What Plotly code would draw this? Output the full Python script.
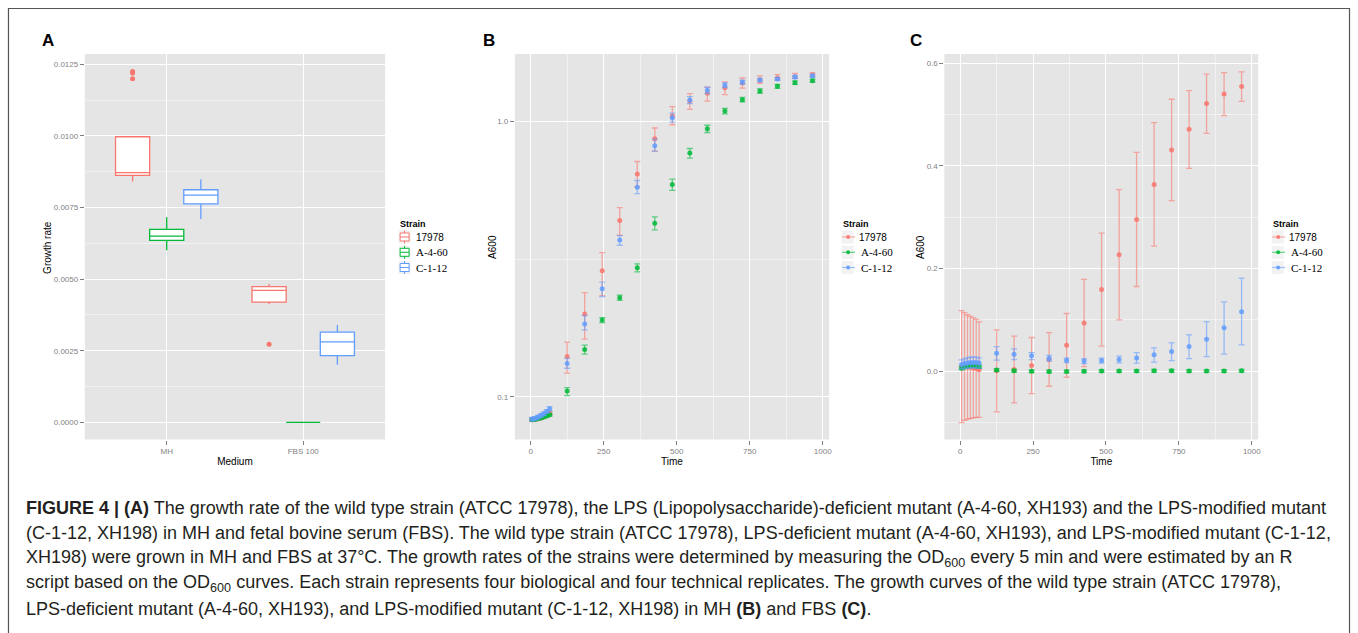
import math
import plotly.graph_objects as go

# ---------------- DATA ----------------
strains = ["17978", "A-4-60", "C-1-12"]
colors = ["#F8766D", "#00BA38", "#619CFF"]

# Panel A: growth-rate box statistics per medium
media = ["MH", "FBS 100"]
box_q1 = {"17978": [0.00862, 0.00420], "A-4-60": [0.00635, 0.0], "C-1-12": [0.00763, 0.00233]}
box_med = {"17978": [0.00872, 0.00461], "A-4-60": [0.00650, 0.0], "C-1-12": [0.00793, 0.00281]}
box_q3 = {"17978": [0.00997, 0.00474], "A-4-60": [0.00674, 0.0], "C-1-12": [0.00812, 0.00315]}
box_lo = {"17978": [0.00841, 0.00413], "A-4-60": [0.00601, 0.0], "C-1-12": [0.00710, 0.00201]}
box_hi = {"17978": [0.00997, 0.00483], "A-4-60": [0.00716, 0.0], "C-1-12": [0.00848, 0.00340]}
outlier_medium = ["MH", "MH", "MH", "FBS 100"]
outlier_strain = ["17978", "17978", "17978", "17978"]
outlier_value = [0.01225, 0.01220, 0.01200, 0.00273]

# Time points (min) for panels B and C
time = [5, 15, 25, 35, 45, 55, 65, 125, 185, 245, 305, 365, 425, 485,
        545, 605, 665, 725, 785, 845, 905, 965]

# Panel B (MH): mean A600 with lower / upper error limits
mh_mean = {
    "17978": [0.0825, 0.0828, 0.0832, 0.0838, 0.0845, 0.0857, 0.0872, 0.140, 0.200, 0.287,
              0.437, 0.644, 0.865, 1.046, 1.185, 1.264, 1.325, 1.377, 1.413, 1.436, 1.453, 1.474],
    "A-4-60": [0.0825, 0.0828, 0.0833, 0.0838, 0.0845, 0.0852, 0.0860, 0.105, 0.1485, 0.190,
               0.229, 0.294, 0.427, 0.590, 0.767, 0.940, 1.090, 1.199, 1.289, 1.340, 1.382, 1.405],
    "C-1-12": [0.0830, 0.0836, 0.0844, 0.0855, 0.0868, 0.0885, 0.0905, 0.132, 0.184, 0.247,
               0.371, 0.577, 0.816, 1.031, 1.195, 1.296, 1.351, 1.386, 1.413, 1.425, 1.449, 1.465],
}
mh_low = {
    "17978": [0.0815, 0.0818, 0.0822, 0.0828, 0.0835, 0.0846, 0.0860, 0.122, 0.162, 0.233,
              0.386, 0.579, 0.780, 0.972, 1.106, 1.185, 1.250, 1.320, 1.375, 1.410, 1.432, 1.457],
    "A-4-60": [0.0818, 0.0821, 0.0826, 0.0831, 0.0838, 0.0845, 0.0852, 0.101, 0.143, 0.186,
               0.224, 0.284, 0.404, 0.562, 0.736, 0.911, 1.064, 1.176, 1.265, 1.318, 1.362, 1.388],
    "C-1-12": [0.0818, 0.0824, 0.0832, 0.0842, 0.0855, 0.0872, 0.0890, 0.127, 0.175, 0.231,
               0.355, 0.547, 0.780, 0.993, 1.160, 1.262, 1.326, 1.366, 1.395, 1.410, 1.431, 1.446],
}
mh_high = {
    "17978": [0.0835, 0.0838, 0.0842, 0.0848, 0.0855, 0.0868, 0.0884, 0.158, 0.239, 0.334,
              0.486, 0.715, 0.946, 1.131, 1.260, 1.330, 1.392, 1.437, 1.462, 1.478, 1.493, 1.502],
    "A-4-60": [0.0832, 0.0835, 0.0840, 0.0845, 0.0852, 0.0859, 0.0868, 0.108, 0.154, 0.194,
               0.234, 0.304, 0.450, 0.617, 0.797, 0.968, 1.114, 1.222, 1.313, 1.363, 1.402, 1.423],
    "C-1-12": [0.0842, 0.0848, 0.0856, 0.0868, 0.0881, 0.0898, 0.0922, 0.138, 0.197, 0.261,
               0.385, 0.610, 0.860, 1.071, 1.230, 1.330, 1.380, 1.410, 1.432, 1.440, 1.467, 1.482],
}

# Panel C (FBS): mean A600 with lower / upper error limits
fbs_mean = {
    "17978": [0.0090, 0.0092, 0.0082, 0.0077, 0.0065, 0.0055, 0.0030, 0.0007, 0.0033, 0.0110,
              0.0230, 0.0505, 0.0940, 0.1590, 0.2269, 0.2958, 0.3640, 0.4310, 0.4713, 0.5214, 0.5400, 0.5545],
    "A-4-60": [0.0060, 0.0080, 0.0100, 0.0110, 0.0110, 0.0100, 0.0090, 0.0025, 0.0010, 0.0000,
               -0.0005, -0.0005, 0.0000, 0.0005, 0.0005, 0.0005, 0.0010, 0.0010, 0.0005, 0.0005, 0.0005, 0.0010],
    "C-1-12": [0.0130, 0.0150, 0.0160, 0.0170, 0.0170, 0.0170, 0.0160, 0.0351, 0.0332, 0.0300,
               0.0247, 0.0215, 0.0200, 0.0208, 0.0228, 0.0260, 0.0319, 0.0384, 0.0481, 0.0624, 0.0845, 0.1157],
}
fbs_low = {
    "17978": [-0.1000, -0.0956, -0.0936, -0.0917, -0.0910, -0.0900, -0.0900, -0.0793, -0.0618, -0.0436,
              -0.0293, -0.0117, 0.0091, 0.0488, 0.1001, 0.1651, 0.2438, 0.3322, 0.3952, 0.4635, 0.4980, 0.5259],
    "A-4-60": [0.0030, 0.0050, 0.0070, 0.0080, 0.0080, 0.0070, 0.0060, 0.0000, -0.0015, -0.0025,
               -0.0030, -0.0030, -0.0025, -0.0020, -0.0020, -0.0020, -0.0015, -0.0015, -0.0020, -0.0020, -0.0020, -0.0015],
    "C-1-12": [0.0040, 0.0055, 0.0060, 0.0065, 0.0065, 0.0065, 0.0060, 0.0215, 0.0228, 0.0228,
               0.0195, 0.0169, 0.0150, 0.0156, 0.0163, 0.0156, 0.0176, 0.0208, 0.0247, 0.0286, 0.0332, 0.0514],
}
fbs_high = {
    "17978": [0.1180, 0.1140, 0.1100, 0.1070, 0.1040, 0.1010, 0.0960, 0.0806, 0.0683, 0.0657,
              0.0754, 0.1125, 0.1788, 0.2690, 0.3536, 0.4264, 0.4843, 0.5298, 0.5467, 0.5786, 0.5818, 0.5831],
    "A-4-60": [0.0090, 0.0110, 0.0130, 0.0140, 0.0140, 0.0130, 0.0120, 0.0050, 0.0035, 0.0025,
               0.0020, 0.0020, 0.0025, 0.0030, 0.0030, 0.0030, 0.0035, 0.0035, 0.0030, 0.0030, 0.0030, 0.0035],
    "C-1-12": [0.0220, 0.0245, 0.0260, 0.0275, 0.0275, 0.0275, 0.0260, 0.0481, 0.0436, 0.0364,
               0.0306, 0.0254, 0.0241, 0.0254, 0.0293, 0.0364, 0.0455, 0.0553, 0.0709, 0.0968, 0.1352, 0.1814],
}

caption_lines = [
    "<b>FIGURE 4 | (A)</b> The growth rate of the wild type strain (ATCC 17978), the LPS (Lipopolysaccharide)-deficient mutant (A-4-60, XH193) and the LPS-modified mutant",
    "(C-1-12, XH198) in MH and fetal bovine serum (FBS). The wild type strain (ATCC 17978), LPS-deficient mutant (A-4-60, XH193), and LPS-modified mutant (C-1-12,",
    "XH198) were grown in MH and FBS at 37°C. The growth rates of the strains were determined by measuring the OD<sub>600</sub> every 5 min and were estimated by an R",
    "script based on the OD<sub>600</sub> curves. Each strain represents four biological and four technical replicates. The growth curves of the wild type strain (ATCC 17978),",
    "LPS-deficient mutant (A-4-60, XH193), and LPS-modified mutant (C-1-12, XH198) in MH <b>(B)</b> and FBS <b>(C)</b>.",
]

# ---------------- FIGURE ----------------
W, H = 1358, 633
def px(x):
    return x / W
def py(y):
    return 1 - y / H

def rgba(hexc, a):
    h = hexc.lstrip("#")
    return "rgba(%d,%d,%d,%.2f)" % (int(h[0:2], 16), int(h[2:4], 16), int(h[4:6], 16), a)

SANS = "Liberation Sans, Arial, sans-serif"
SERIF = "Liberation Serif, Times New Roman, serif"

fig = go.Figure()
dodge = {"17978": -0.25, "A-4-60": 0.0, "C-1-12": 0.25}

# Panel A boxes
for s, c in zip(strains, colors):
    xs = [i + 1 + dodge[s] for i in range(len(media))]
    fig.add_trace(go.Box(
        x=xs, q1=box_q1[s], median=box_med[s], q3=box_q3[s],
        lowerfence=box_lo[s], upperfence=box_hi[s],
        width=0.25, whiskerwidth=0, fillcolor="white",
        line=dict(color=c, width=1.3), boxpoints=False,
        name=s, showlegend=False, xaxis="x", yaxis="y", hoverinfo="skip",
    ))
ox = [media.index(m) + 1 + dodge[s] for m, s in zip(outlier_medium, outlier_strain)]
fig.add_trace(go.Scatter(
    x=ox, y=outlier_value, mode="markers",
    marker=dict(color=colors[0], size=5), showlegend=False, xaxis="x", yaxis="y"))

# Panels B and C
for means, lows, highs, xa, ya in [
    (mh_mean, mh_low, mh_high, "x2", "y2"),
    (fbs_mean, fbs_low, fbs_high, "x3", "y3"),
]:
    for s, c in zip(strains, colors):
        m = means[s]
        up = [h - v for h, v in zip(highs[s], m)]
        dn = [v - l for l, v in zip(lows[s], m)]
        fig.add_trace(go.Scatter(
            x=time, y=m, mode="markers", name=s,
            marker=dict(color=rgba(c, 0.85), size=5),
            error_y=dict(type="data", symmetric=False, array=up, arrayminus=dn,
                         color=rgba(c, 0.6), thickness=1.3, width=3),
            showlegend=False, xaxis=xa, yaxis=ya))

PANEL_BG = "#E5E5E5"
tickfont = dict(size=8, color="#7F7F7F", family=SANS)
titlefont = dict(size=10, color="black", family=SANS)
common = dict(showline=False, zeroline=False, gridcolor="white", gridwidth=1.2,
              ticks="outside", ticklen=4, tickwidth=1, tickcolor="#7F7F7F",
              tickfont=tickfont, title_font=titlefont)
minor_style = dict(showgrid=True, gridcolor="#F2F2F2", gridwidth=0.6)

ydom = [py(439.5), py(54)]

fig.update_layout(
    width=W, height=H, autosize=False,
    margin=dict(l=0, r=0, t=0, b=0),
    paper_bgcolor="white", plot_bgcolor=PANEL_BG,
    font=dict(family=SANS, color="black"),
    boxmode="overlay", showlegend=False,
    xaxis=dict(domain=[px(85), px(386)], range=[0.4, 2.6], tickvals=[1, 2], ticktext=media,
               title=dict(text="Medium", standoff=2), anchor="y", **common),
    yaxis=dict(domain=ydom, range=[-0.0006, 0.01286], tickvals=[0, 0.0025, 0.005, 0.0075, 0.01, 0.0125],
               tickformat=".4f", anchor="x",
               minor=dict(dtick=0.00125, tick0=0, **minor_style), **common),
    xaxis2=dict(domain=[px(516), px(831)], range=[-54, 1022], tickvals=[0, 250, 500, 750, 1000],
                title=dict(text="Time", standoff=2), anchor="y2",
                minor=dict(dtick=125, tick0=125, **minor_style), **common),
    yaxis2=dict(domain=ydom, type="log", range=[math.log10(0.07), math.log10(1.756)],
                tickvals=[0.1, 1.0], ticktext=["0.1", "1.0"], anchor="x2",
                minor=dict(tickvals=[10 ** -0.5], **minor_style), **common),
    xaxis3=dict(domain=[px(946.5), px(1261)], range=[-54, 1022], tickvals=[0, 250, 500, 750, 1000],
                title=dict(text="Time", standoff=2), anchor="y3",
                minor=dict(dtick=125, tick0=125, **minor_style), **common),
    yaxis3=dict(domain=ydom, range=[-0.133, 0.618], tickvals=[0, 0.2, 0.4, 0.6], tickformat=".1f",
                anchor="x3",
                minor=dict(dtick=0.1, tick0=-0.1, **minor_style), **common),
)

# y-axis titles (placed like ggplot, close to the tick labels)
for txt, x in [("Growth rate", 47), ("A600", 493), ("A600", 922)]:
    fig.add_annotation(text=txt, x=px(x), y=py(247), xref="paper", yref="paper",
                       showarrow=False, textangle=-90, xanchor="center", yanchor="middle",
                       font=titlefont)

# ---------- manual ggplot-style legends ----------
key_rows = [237.0, 252.3, 267.5]
def add_legend(x0, kind):
    fig.add_annotation(text="<b>Strain</b>", x=px(x0), y=py(224), xref="paper", yref="paper",
                       showarrow=False, xanchor="left", yanchor="middle",
                       font=dict(size=9, color="black", family=SANS))
    for s, c, yc in zip(strains, colors, key_rows):
        fig.add_shape(type="rect", xref="paper", yref="paper",
                      x0=px(x0), x1=px(x0 + 13), y0=py(yc + 7), y1=py(yc - 7),
                      fillcolor="#F2F2F2", line=dict(color="white", width=1), layer="above")
        if kind == "box":
            fig.add_shape(type="rect", xref="paper", yref="paper",
                          x0=px(x0 + 2), x1=px(x0 + 11), y0=py(yc + 4), y1=py(yc - 4),
                          fillcolor="white", line=dict(color=c, width=1), layer="above")
            fig.add_shape(type="line", xref="paper", yref="paper",
                          x0=px(x0 + 2), x1=px(x0 + 11), y0=py(yc), y1=py(yc),
                          line=dict(color=c, width=1), layer="above")
            for ya, yb in [(yc - 4, yc - 6.5), (yc + 4, yc + 6.5)]:
                fig.add_shape(type="line", xref="paper", yref="paper",
                              x0=px(x0 + 6.5), x1=px(x0 + 6.5), y0=py(ya), y1=py(yb),
                              line=dict(color=c, width=1), layer="above")
        else:
            fig.add_shape(type="line", xref="paper", yref="paper",
                          x0=px(x0 + 1), x1=px(x0 + 14), y0=py(yc), y1=py(yc),
                          line=dict(color=rgba(c, 0.6), width=1.2), layer="above")
            fig.add_shape(type="circle", xref="paper", yref="paper",
                          x0=px(x0 + 5), x1=px(x0 + 9), y0=py(yc + 2), y1=py(yc - 2),
                          fillcolor=rgba(c, 0.9), line=dict(width=0), layer="above")
        if s == "17978":
            f = dict(size=10, color="black", family=SANS)
            dx = 16
        else:
            f = dict(size=11, color="black", family=SERIF)
            dx = 16 if kind == "box" else 18
        fig.add_annotation(text=s, x=px(x0 + dx), y=py(yc), xref="paper", yref="paper",
                           showarrow=False, xanchor="left", yanchor="middle", font=f)

add_legend(399, "box")
add_legend(843, "line")
add_legend(1274, "line")

# panel letters
for lbl, x in [("A", 48), ("B", 490), ("C", 918)]:
    fig.add_annotation(text="<b>%s</b>" % lbl, x=px(x), y=py(40), xref="paper", yref="paper",
                       showarrow=False, font=dict(size=17, color="black", family=SANS),
                       xanchor="center", yanchor="middle")

# caption
for i, line in enumerate(caption_lines):
    fig.add_annotation(text=line, x=px(24), y=py(508 + i * 25.3), xref="paper", yref="paper",
                       showarrow=False, xanchor="left", yanchor="middle", align="left",
                       font=dict(size=18, color="#231F20", family=SANS))

# outer frame
fig.add_shape(type="rect", xref="paper", yref="paper", x0=px(8.5), x1=px(1352.5),
              y0=-0.1, y1=py(8.5), line=dict(color="#555555", width=1.2), layer="above")

fig.write_html("out.html", config={"displayModeBar": False},
               post_script="document.body.style.margin='0px';")
